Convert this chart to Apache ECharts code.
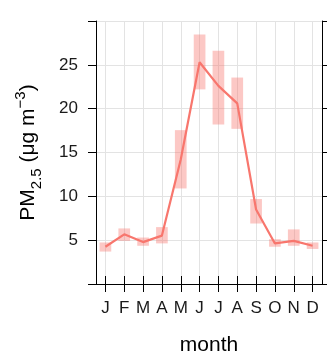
<!DOCTYPE html>
<html>
<head>
<meta charset="utf-8">
<script src="https://cdn.jsdelivr.net/npm/echarts@6/dist/echarts.min.js"></script>
<style>
  html, body { margin: 0; padding: 0; background: #fff; }
  #chart { width: 327px; height: 361px; }
</style>
</head>
<body>
<div id="chart"></div>
<script>
// Monthly mean PM2.5 with its confidence interval
const months = ['J', 'F', 'M', 'A', 'M', 'J', 'J', 'A', 'S', 'O', 'N', 'D'];
const meanPM = [4.25, 5.67, 4.78, 5.52, 14.2, 25.3, 22.6, 20.6, 8.5, 4.63, 4.92, 4.36];
const lowerPM = [3.70, 4.92, 4.36, 4.63, 10.9, 22.2, 18.2, 17.7, 6.9, 4.25, 4.36, 4.0];
const upperPM = [4.74, 6.34, 5.30, 6.49, 17.55, 28.46, 26.6, 23.55, 9.69, 5.11, 6.23, 4.74];
const yTicks = [0, 5, 10, 15, 20, 25, 30];

const lineColor = '#F8766D';
const bandColor = 'rgba(248,118,109,0.4)';
const axisColor = '#000';
const gridColor = '#e3e3e3';
const font = '"Liberation Sans", Arial, sans-serif';

const chart = echarts.init(document.getElementById('chart'), null, { renderer: 'canvas' });

const ciData = months.map((m, i) => [i, lowerPM[i], upperPM[i]]);

const commonX = {
  type: 'category',
  data: months,
  boundaryGap: true,
  axisLine: { show: true, lineStyle: { color: axisColor, width: 1 } },
  axisTick: { show: true, alignWithLabel: true, interval: 0, length: 8, lineStyle: { color: axisColor } },
};

const commonY = {
  type: 'value',
  min: yTicks[0],
  max: yTicks[yTicks.length - 1],
  interval: 5,
  axisLine: { show: true, lineStyle: { color: axisColor, width: 1 } },
  axisTick: { show: true, length: 8, lineStyle: { color: axisColor } },
};

chart.setOption({
  animation: false,
  backgroundColor: '#fff',
  textStyle: { fontFamily: font },
  grid: { left: 96, right: 5, top: 21, bottom: 72, containLabel: false },
  xAxis: [
    Object.assign({}, commonX, {
      position: 'bottom',
      name: 'month',
      nameLocation: 'middle',
      nameGap: 51,
      nameTextStyle: { fontSize: 21, color: '#000', fontFamily: font },
      axisLabel: { show: true, interval: 0, margin: 16, fontSize: 17, color: '#1a1a1a', fontFamily: font },
      splitLine: { show: true, alignWithLabel: true, interval: 0, lineStyle: { color: gridColor, width: 1 } }
    }),
    Object.assign({}, commonX, {
      position: 'top',
      axisLabel: { show: false },
      splitLine: { show: false }
    })
  ],
  yAxis: [
    Object.assign({}, commonY, {
      position: 'left',
      name: '{b|PM}{sub|2.5}{b| (μg m}{sup|−3}{b|)}',
      nameLocation: 'middle',
      nameRotate: 90,
      nameGap: 52,
      nameTextStyle: {
        color: '#000',
        fontFamily: font,
        rich: {
          b: { fontSize: 21, lineHeight: 31, fontFamily: font, color: '#000' },
          sub: { fontSize: 15, lineHeight: 15, verticalAlign: 'bottom', fontFamily: font, color: '#000' },
          sup: { fontSize: 15, lineHeight: 15, verticalAlign: 'top', fontFamily: font, color: '#000' }
        }
      },
      axisLabel: {
        show: true, margin: 18, fontSize: 17, color: '#1a1a1a', fontFamily: font,
        formatter: v => (v === 0 || v === 30) ? '' : String(v)
      },
      splitLine: { show: true, lineStyle: { color: gridColor, width: 1 } }
    }),
    Object.assign({}, commonY, {
      position: 'right',
      axisLabel: { show: false },
      splitLine: { show: false }
    })
  ],
  series: [
    {
      // shaded interval for each month
      type: 'custom',
      xAxisIndex: 0,
      yAxisIndex: 0,
      z: 2,
      data: ciData,
      renderItem: function (params, api) {
        const x = api.value(0);
        const top = api.coord([x, api.value(2)]);
        const bottom = api.coord([x, api.value(1)]);
        const band = api.size([1, 0])[0];
        const w = band * 0.62;
        return {
          type: 'rect',
          shape: { x: top[0] - w / 2, y: top[1], width: w, height: bottom[1] - top[1] },
          style: { fill: bandColor }
        };
      }
    },
    {
      type: 'line',
      xAxisIndex: 0,
      yAxisIndex: 0,
      z: 3,
      data: meanPM,
      showSymbol: false,
      symbol: 'none',
      lineStyle: { color: lineColor, width: 2.2 },
      itemStyle: { color: lineColor }
    }
  ]
});
</script>
</body>
</html>
